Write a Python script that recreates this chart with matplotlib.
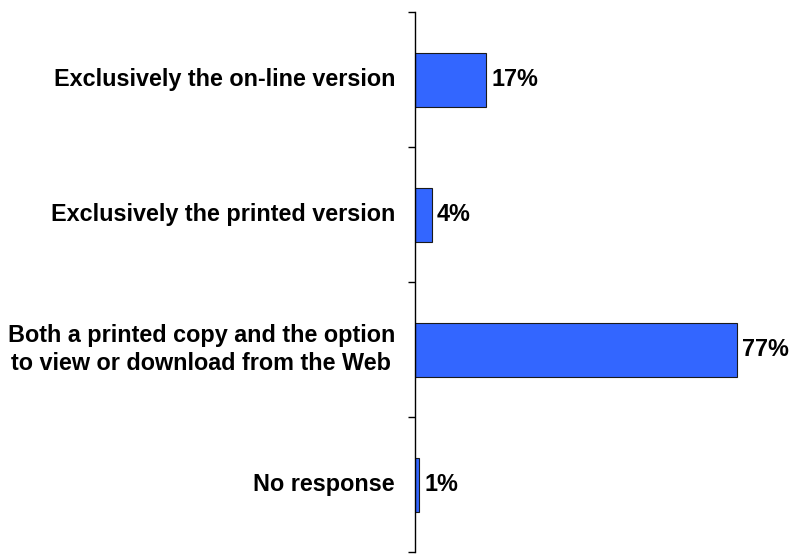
import matplotlib
matplotlib.use("Agg")
import matplotlib.pyplot as plt

categories = [
    "Exclusively the on-line version",
    "Exclusively the printed version",
    "Both a printed copy and the option\nto view or download from the Web",
    "No response",
]
values = [17, 4, 77, 1]
value_labels = ["17%", "4%", "77%", "1%"]

plt.rcParams['font.family'] = ['Liberation Sans', 'DejaVu Sans']

W, H = 792, 554
fig = plt.figure(figsize=(W / 100, H / 100), dpi=100)
ax = fig.add_axes([415 / W, 1 - 552 / H, 376 / W, 540 / H])

y = list(range(len(categories)))
ax.barh(y, values, height=0.4, color='#3366FF', edgecolor='#1a1a1a', linewidth=0.8)
ax.set_ylim(len(categories) - 0.5, -0.5)
ax.set_xlim(0, 90)

for yi, v, lab in zip(y, values, value_labels):
    ax.annotate(lab, (v, yi), xytext=(5, 0), textcoords='offset pixels',
                va='center', ha='left', fontsize=16.8, fontweight='bold')

for s in ['top', 'right', 'bottom']:
    ax.spines[s].set_visible(False)
ax.spines['left'].set_linewidth(1.0)
ax.set_xticks([])
ax.set_yticks([i - 0.5 for i in range(len(categories) + 1)])
ax.set_yticklabels([])
ax.tick_params(axis='y', length=5, width=1.0, direction='out')

for yi, cat in zip(y, categories):
    ax.annotate(cat, (0, yi), xytext=(-20, 0), textcoords='offset pixels',
                ha='right', va='center', fontsize=16.8, fontweight='bold',
                multialignment='center', linespacing=1.3)

fig.savefig('out.png', dpi=100)
